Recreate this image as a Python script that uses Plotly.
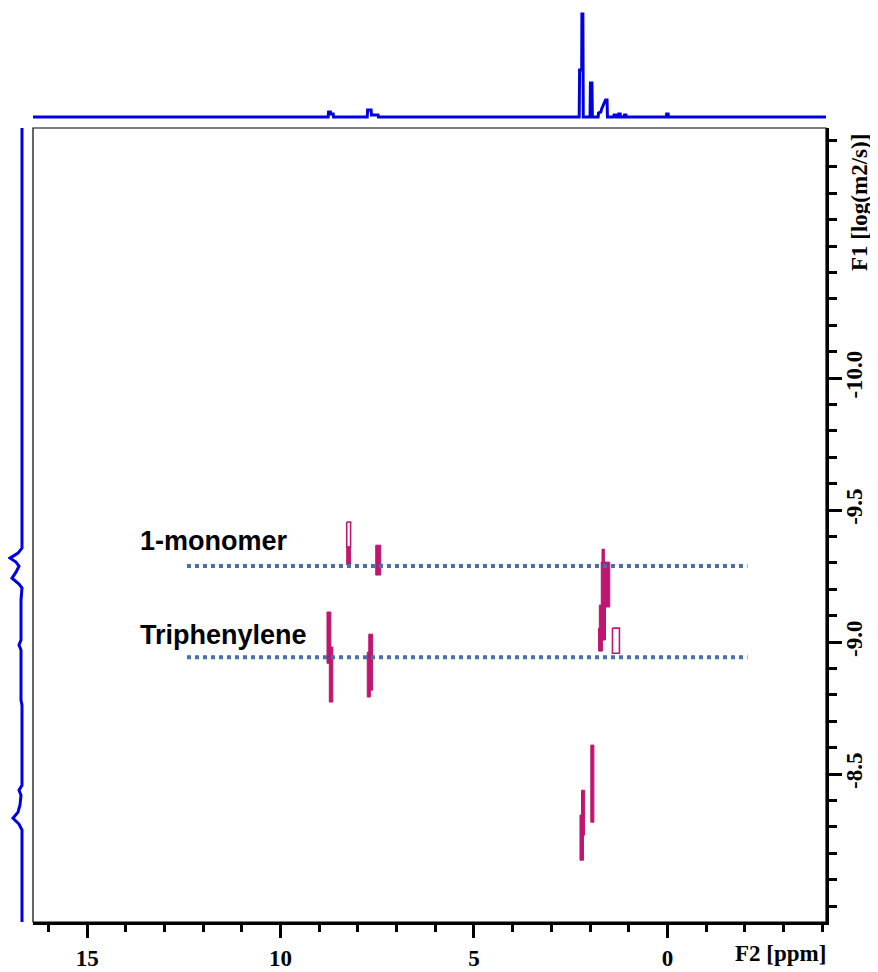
import plotly.graph_objects as go

# ---------------- data ----------------
# 1D projection on F2 (top), ppm vs intensity (arbitrary units)
f2_ppm = [16.4, 8.77, 8.76, 8.71, 8.70, 8.64, 8.63,
          7.76, 7.75, 7.66, 7.65, 7.48, 7.47,
          2.28, 2.27, 2.215, 2.21, 2.185, 2.175,
          2.00, 1.99, 1.95, 1.94,
          1.79, 1.78, 1.72, 1.70, 1.65, 1.60, 1.56, 1.55,
          1.40, 1.38, 1.34, 1.33, 1.27, 1.26, 1.22, 1.21, 1.12, 1.11, 1.07, 1.06,
          0.03, 0.02, -0.02, -0.03, -4.1]
f2_int = [0, 0, 5, 5, 3, 3, 0,
          0, 7, 7, 2, 2, 0,
          0, 47, 47, 103, 103, 0,
          0, 34, 34, 0,
          0, 4, 5, 8, 13, 17, 17, 0,
          0, 2, 2, 0, 0, 3, 3, 0, 0, 2, 2, 0,
          0, 3, 3, 0, 0]

# 1D projection on F1 (left), log(D) vs intensity
f1_logd = [-10.947, -9.356, -9.337, -9.318, -9.303, -9.288, -9.265, -9.242, -9.220, -9.205,
           -9.159, -9.008, -8.989, -8.970, -8.780, -8.761,
           -8.458, -8.439, -8.420, -8.383, -8.356, -8.333, -8.311, -8.288, -7.94]
f1_int = [0, 0, 4, 12, 6, 3, 6, 10, 3, 0,
          1, 1, 3, 1, 1, 0,
          0, 3, 1, 2, 4, 9, 3, 0, 0]

# DOSY cross peaks (contour extents): F2 ppm from/to, log(D) from/to, outline-only flag
peak_ppm_from = [8.29, 8.29, 7.54, 8.80, 8.74, 7.72, 7.76, 1.69, 1.71, 1.76, 1.78, 1.42, 1.98, 2.22, 2.26]
peak_ppm_to   = [8.19, 8.19, 7.41, 8.70, 8.65, 7.62, 7.68, 1.63, 1.49, 1.60, 1.68, 1.24, 1.90, 2.14, 2.17]
peak_logd_from = [-9.455, -9.360, -9.367, -9.114, -8.981, -9.030, -8.962, -9.352, -9.303, -9.140, -9.053, -9.053, -8.610, -8.439, -8.345]
peak_logd_to   = [-9.360, -9.292, -9.254, -8.920, -8.773, -8.818, -8.792, -9.292, -9.133, -9.008, -8.966, -8.958, -8.318, -8.269, -8.174]
peak_outline   = [True, False, False, False, False, False, False, False, False, False, False, True, False, False, False]

# reference lines (diffusion coefficients) and their labels
ref_names = ["1-monomer", "Triphenylene"]
ref_logd = [-9.288, -8.943]
ref_ppm_from = 12.42
ref_ppm_to = -2.07

x_tickvals = [15, 10, 5, 0]
x_ticktext = ["15", "10", "5", "0"]
y_tickvals = [-10.0, -9.5, -9.0, -8.5]
y_ticktext = ["-10.0", "-9.5", "-9.0", "-8.5"]

# ---------------- figure ----------------
OFF = 8              # page body margin of the html page
W, H = 870, 964      # figure size so that it fits the 878x972 window

def px_x(p):
    return (p - OFF) / W

def px_y(p):
    return (H - (p - OFF)) / H

BLUE = "#0000e0"
CONT = "#bf1670"
DOT = "#4a6ea8"
serif = "Liberation Serif"

fig = go.Figure()

fig.add_trace(go.Scatter(x=f2_ppm, y=f2_int, mode="lines",
                         line=dict(color=BLUE, width=3), xaxis="x", yaxis="y2",
                         hoverinfo="skip"))
fig.add_trace(go.Scatter(x=f1_int, y=f1_logd, mode="lines",
                         line=dict(color=BLUE, width=3), xaxis="x3", yaxis="y",
                         hoverinfo="skip"))

for a, b, t, u, hol in zip(peak_ppm_from, peak_ppm_to, peak_logd_from, peak_logd_to, peak_outline):
    if hol:
        fig.add_trace(go.Scatter(x=[a, b, b, a, a], y=[t, t, u, u, t], mode="lines",
                                 fill="toself", fillcolor="white",
                                 line=dict(color=CONT, width=1.6),
                                 xaxis="x", yaxis="y", hoverinfo="skip"))
    else:
        fig.add_trace(go.Scatter(x=[a, b, b, a, a], y=[t, t, u, u, t], mode="lines",
                                 fill="toself", fillcolor=CONT,
                                 line=dict(color=CONT, width=1),
                                 xaxis="x", yaxis="y", hoverinfo="skip"))

for name, v in zip(ref_names, ref_logd):
    fig.add_trace(go.Scatter(x=[ref_ppm_from, ref_ppm_to], y=[v, v], mode="lines",
                             line=dict(color=DOT, width=4, dash="4px,4px"),
                             xaxis="x", yaxis="y", hoverinfo="skip"))

tick_font = dict(family=serif, size=23, color="black", weight="bold")

fig.update_layout(
    width=W, height=H,
    margin=dict(l=0, r=0, t=0, b=0),
    paper_bgcolor="white", plot_bgcolor="white",
    showlegend=False,
    xaxis=dict(domain=[px_x(33), px_x(826)], range=[16.4, -4.1], anchor="y",
               showline=True, linewidth=3, linecolor="black", mirror=False,
               ticks="outside", ticklen=13, tickwidth=2.5, tickcolor="black",
               tickmode="array", tickvals=x_tickvals, ticktext=x_ticktext,
               tickfont=tick_font, showgrid=False, zeroline=False,
               minor=dict(tickmode="linear", tick0=0, dtick=1, ticks="outside",
                          ticklen=7, tickwidth=2.5, tickcolor="black", showgrid=False),
               automargin=False),
    yaxis=dict(domain=[px_y(922), px_y(128)], range=[-7.94, -10.947], anchor="x",
               side="right",
               showline=True, linewidth=3, linecolor="black", mirror=False,
               ticks="outside", ticklen=13, tickwidth=2.5, tickcolor="black",
               tickmode="array", tickvals=y_tickvals, ticktext=y_ticktext,
               tickangle=-90, tickfont=tick_font, showgrid=False, zeroline=False,
               ticklabelstandoff=-8,
               minor=dict(tickmode="linear", tick0=0, dtick=0.1, ticks="outside",
                          ticklen=8, tickwidth=2.5, tickcolor="black", showgrid=False),
               automargin=False),
    yaxis2=dict(domain=[px_y(125), px_y(10)], range=[-8, 107], anchor="x",
                visible=False),
    xaxis3=dict(domain=[0, px_x(30)], range=[14, -8], anchor="y", visible=False),
    shapes=[dict(type="rect", xref="x domain", yref="y domain", x0=0, x1=1, y0=0, y1=1,
                 line=dict(color="black", width=1.2), layer="above")],
)

annotations = [
    dict(text="<b>F2 [ppm]</b>", xref="paper", yref="paper", x=px_x(780), y=px_y(953),
         showarrow=False, font=dict(family=serif, size=23, color="black"),
         xanchor="center", yanchor="middle"),
    dict(text="<b>F1 [log(m2/s)]</b>", xref="paper", yref="paper", x=px_x(860), y=px_y(203),
         showarrow=False, textangle=-90, font=dict(family=serif, size=23, color="black"),
         xanchor="center", yanchor="middle"),
]
label_logd = [-9.383, -9.027]
for name, v in zip(ref_names, label_logd):
    annotations.append(dict(text="<b>" + name + "</b>", xref="x", yref="y", x=13.68, y=v,
                            showarrow=False, xanchor="left", yanchor="middle",
                            font=dict(family="Liberation Sans", size=27, color="black")))
fig.update_layout(annotations=annotations)

fig.write_html("out.html")
